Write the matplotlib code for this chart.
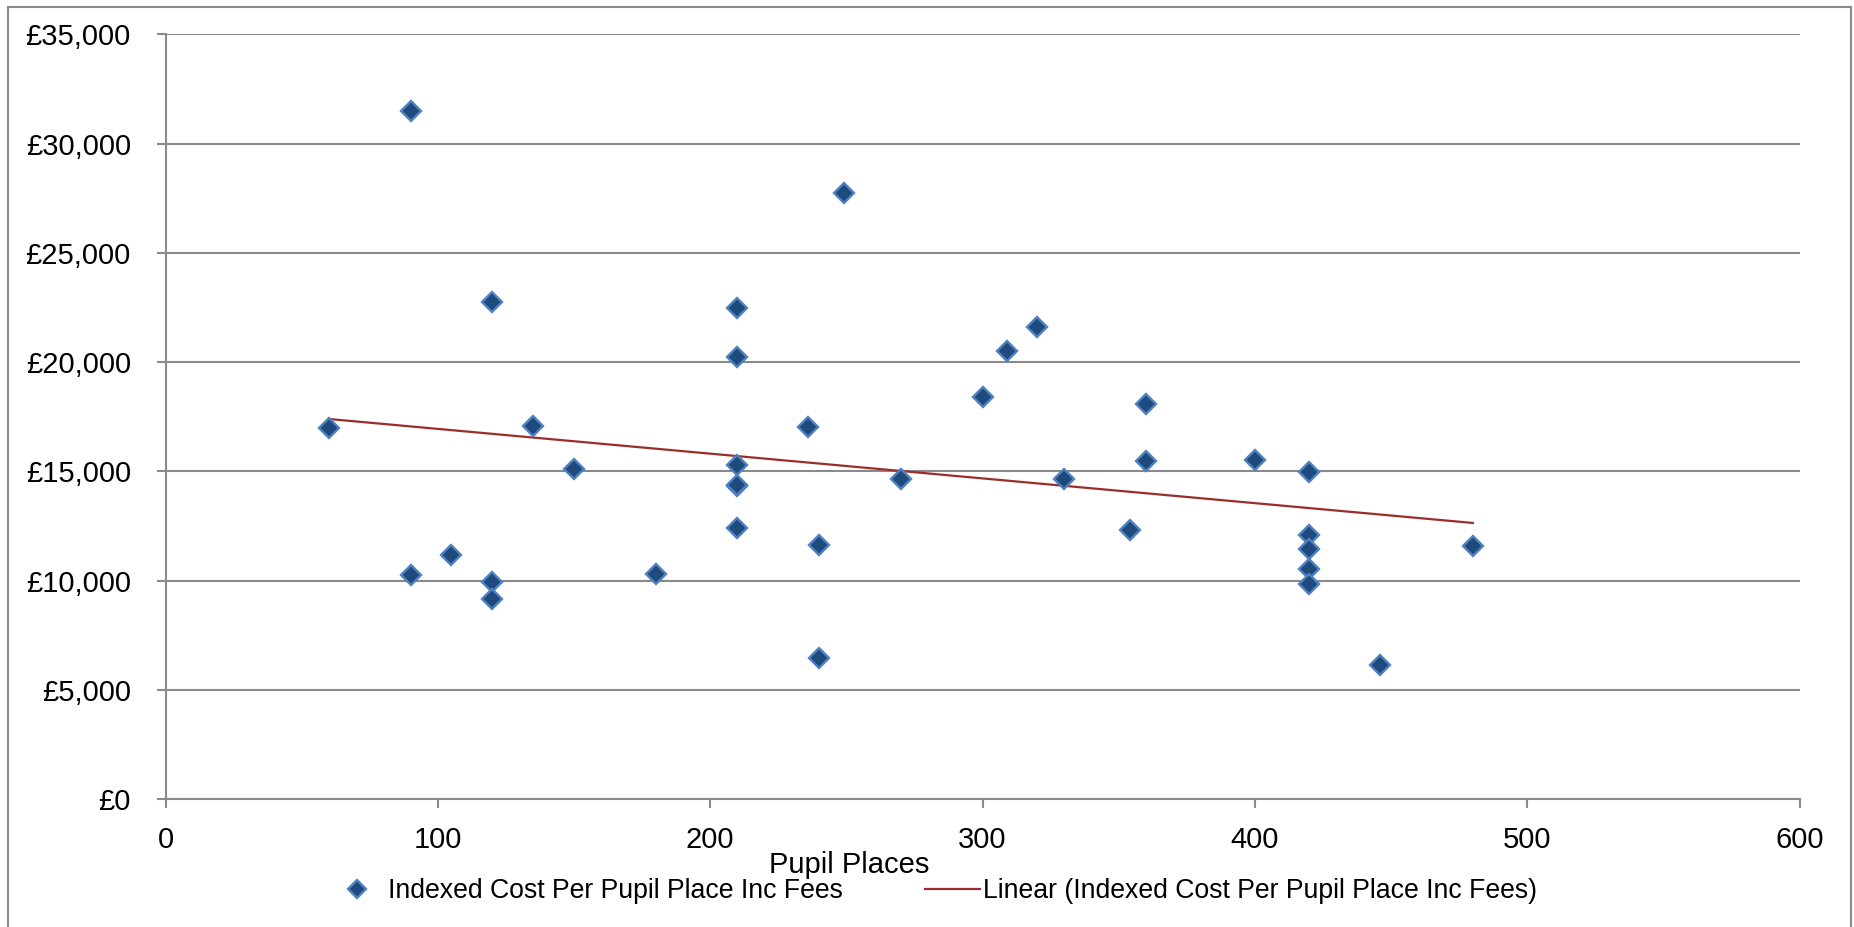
import numpy as np
import matplotlib
matplotlib.use("Agg")
import matplotlib.pyplot as plt
from matplotlib.ticker import FuncFormatter, MultipleLocator
from matplotlib.patches import Rectangle

# Pupil places and indexed cost per pupil place
pupil_places = [60, 90, 90, 105, 120, 120, 120, 135, 150, 180,
                210, 210, 210, 210, 210, 210, 236, 240, 240, 249,
                270, 300, 309, 320, 330, 354, 360, 360, 400, 420,
                420, 420, 420, 420, 446, 480]
cost_per_place = [16970, 31500, 10260, 11180, 22770, 9950, 9170, 17090, 15100, 10300,
                  22460, 20250, 15300, 14320, 14360, 12400, 17050, 11640, 6450, 27750,
                  14640, 18420, 20520, 21630, 14640, 12320, 18070, 15480, 15510, 14970,
                  12090, 11440, 10550, 9840, 6140, 11600]

series_label = "Indexed Cost Per Pupil Place Inc Fees"
trend_label = "Linear (Indexed Cost Per Pupil Place Inc Fees)"

plt.rcParams['font.family'] = ['Liberation Sans', 'DejaVu Sans']

W, H = 1854, 927
fig = plt.figure(figsize=(W / 100, H / 100), dpi=100)
ax = fig.add_axes([165.5 / W, 1 - 799.3 / H, (1799.6 - 165.5) / W, (799.3 - 34.3) / H])

# outer chart border
fig.patches.append(Rectangle((8 / W, -0.05), (1851 - 8) / W, 1.05 - 7 / H,
                             transform=fig.transFigure, fill=False,
                             edgecolor='#8a8a8a', linewidth=1.5))

x = np.array(pupil_places, dtype=float)
y = np.array(cost_per_place, dtype=float)

ax.plot(x, y, linestyle='none', marker='D', markersize=10.5,
        markerfacecolor='#1f4a7e', markeredgecolor='#4f81bd',
        markeredgewidth=1.7, label=series_label, zorder=3)

# linear trendline
slope, intercept = np.polyfit(x, y, 1)
xt = np.array([x.min(), x.max()])
ax.plot(xt, slope * xt + intercept, color='#9b2d2d', linewidth=1.6,
        label=trend_label, zorder=2)

ax.set_xlim(0, 600)
ax.set_ylim(0, 35000)
ax.xaxis.set_major_locator(MultipleLocator(100))
ax.yaxis.set_major_locator(MultipleLocator(5000))
ax.yaxis.set_major_formatter(FuncFormatter(lambda v, p: f"£{v:,.0f}"))

ax.grid(True, axis='y', color='#8a8a8a', linewidth=1.5)
ax.set_axisbelow(True)
for s in ['top', 'right']:
    ax.spines[s].set_visible(False)
for s in ['left', 'bottom']:
    ax.spines[s].set_color('#8a8a8a')
    ax.spines[s].set_linewidth(1.5)

ax.tick_params(axis='both', colors='#8a8a8a', labelcolor='black',
               labelsize=21, length=6.5, width=1.5)
ax.tick_params(axis='y', pad=18.5)
ax.tick_params(axis='x', pad=12.5)

fig.text(849 / W, 1 - 865 / H, "Pupil Places", fontsize=21,
         ha='center', va='center')

fig.legend(*ax.get_legend_handles_labels(), loc='center left',
           bbox_to_anchor=(330 / W, 1 - 891 / H), ncol=2,
           frameon=False, fontsize=19.2, handlelength=2.05, columnspacing=3.1,
           markerscale=0.9, handletextpad=0.12, borderpad=0, borderaxespad=0)

fig.savefig("out.png", dpi=100)
